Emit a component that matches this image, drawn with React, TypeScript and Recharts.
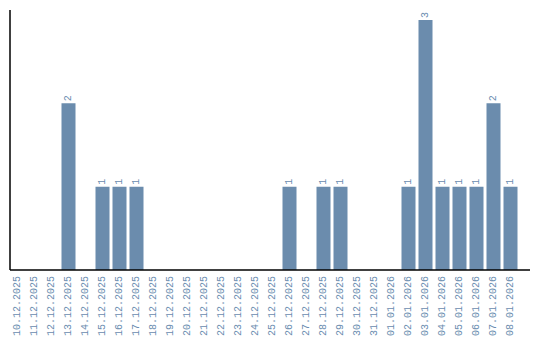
import React from "react";
import { BarChart, Bar, XAxis, YAxis, LabelList } from "recharts";

const dates = [
  "10.12.2025", "11.12.2025", "12.12.2025", "13.12.2025", "14.12.2025",
  "15.12.2025", "16.12.2025", "17.12.2025", "18.12.2025", "19.12.2025",
  "20.12.2025", "21.12.2025", "22.12.2025", "23.12.2025", "24.12.2025",
  "25.12.2025", "26.12.2025", "27.12.2025", "28.12.2025", "29.12.2025",
  "30.12.2025", "31.12.2025", "01.01.2026", "02.01.2026", "03.01.2026",
  "04.01.2026", "05.01.2026", "06.01.2026", "07.01.2026", "08.01.2026",
];
const counts = [
  0, 0, 0, 2, 0,
  1, 1, 1, 0, 0,
  0, 0, 0, 0, 0,
  0, 1, 0, 1, 1,
  0, 0, 0, 1, 3,
  1, 1, 1, 2, 1,
];

const data = dates.map((d, i) => ({ date: d, count: counts[i] }));

const TEXT = "#6a8caf";
const BAR = "#6b8cad";
const FONT = "'Liberation Mono', monospace";

const Tick = (props: any) => {
  const { x, y, payload } = props;
  const ty = y - 2;
  return (
    <text
      x={x}
      y={ty}
      transform={`rotate(-90, ${x}, ${ty})`}
      textAnchor="end"
      dominantBaseline="central"
      fill={TEXT}
      fontSize={10}
      fontFamily={FONT}
    >
      {payload.value}
    </text>
  );
};

const ValueLabel = (props: any) => {
  const { x, y, width, value } = props;
  if (!value) return null;
  const cx = x + width / 2;
  const cy = y - 2;
  return (
    <text
      x={cx}
      y={cy}
      transform={`rotate(-90, ${cx}, ${cy})`}
      textAnchor="start"
      dominantBaseline="central"
      fill={TEXT}
      fontSize={10}
      fontFamily={FONT}
    >
      {value}
    </text>
  );
};

export default function App() {
  return (
    <div style={{ position: "absolute", left: 0, top: 0, width: 540, height: 340, background: "#fff" }}>
      <BarChart
        width={540}
        height={340}
        data={data}
        margin={{ top: 10, right: 10, bottom: 10, left: 0 }}
        barCategoryGap={0}
      >
        <XAxis
          dataKey="date"
          interval={0}
          height={60}
          tickLine={false}
          axisLine={{ stroke: "#000", strokeWidth: 1.5 }}
          tick={<Tick />}
          padding={{ left: -1.5, right: 11.5 }}
        />
        <YAxis
          width={10}
          domain={[0, 3.12]}
          tick={false}
          tickLine={false}
          axisLine={{ stroke: "#000", strokeWidth: 1.5 }}
          allowDataOverflow
        />
        <Bar dataKey="count" fill={BAR} barSize={14} isAnimationActive={false}>
          <LabelList dataKey="count" content={<ValueLabel />} />
        </Bar>
      </BarChart>
    </div>
  );
}
